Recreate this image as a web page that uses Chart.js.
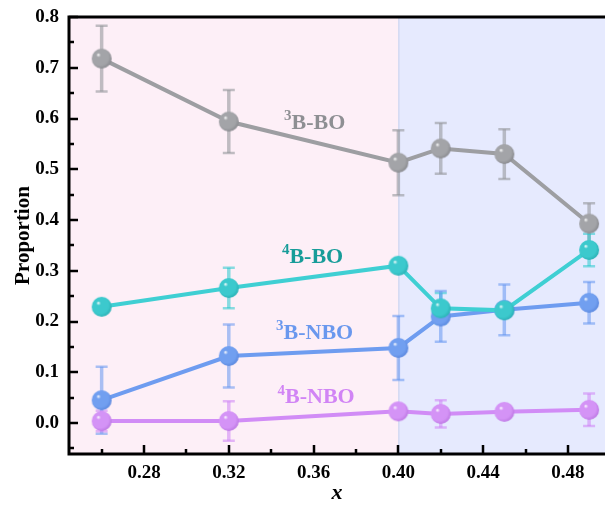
<!DOCTYPE html>
<html>
<head>
<meta charset="utf-8">
<script src="https://cdn.jsdelivr.net/npm/chart.js@4"></script>
<style>
  html, body { margin: 0; padding: 0; background: #fff; }
  #wrap { width: 605px; height: 505px; }
</style>
</head>
<body>
<div id="wrap"><canvas id="chart" width="605" height="505"></canvas></div>
<script>
// composition x and the four boron species
const xValues = [0.26, 0.32, 0.40, 0.42, 0.45, 0.49];

const b3BO = [0.718, 0.594, 0.513, 0.541, 0.530, 0.393];
const b3BOErr = [0.065, 0.062, 0.064, 0.050, 0.049, 0.040];

const b4BO = [0.229, 0.266, 0.310, 0.226, 0.222, 0.341];
const b4BOErr = [0.010, 0.040, 0.010, 0.030, 0.012, 0.032];

const b3NBO = [0.045, 0.132, 0.148, 0.210, 0.223, 0.237];
const b3NBOErr = [0.066, 0.062, 0.063, 0.050, 0.050, 0.041];

const b4NBO = [0.004, 0.004, 0.023, 0.018, 0.022, 0.026];
const b4NBOErr = [0.020, 0.039, 0.008, 0.027, 0.012, 0.032];

const xTicks = [0.28, 0.32, 0.36, 0.40, 0.44, 0.48];
const yTicks = [0.0, 0.1, 0.2, 0.3, 0.4, 0.5, 0.6, 0.7, 0.8];

const FONT = "'Liberation Serif', 'Times New Roman', serif";

// shaded sphere used as the point marker
function sphere(color, dark) {
  const r = 10;
  const c = document.createElement("canvas");
  c.width = c.height = r * 2 + 2;
  const g = c.getContext("2d");
  const cx = r + 1, cy = r + 1;
  const grad = g.createRadialGradient(cx - 3.5, cy - 4, 0, cx - 1, cy - 1, r * 1.25);
  grad.addColorStop(0, "#ffffff");
  grad.addColorStop(0.18, color);
  grad.addColorStop(0.7, color);
  grad.addColorStop(1, dark);
  g.fillStyle = grad;
  g.beginPath();
  g.arc(cx, cy, r, 0, Math.PI * 2);
  g.fill();
  return c;
}

const series = [
  { label: "3B-BO", data: b3BO, err: b3BOErr, line: "#9d9ea2", bar: "rgba(150,151,156,0.6)", ball: sphere("#a3a4a8", "#808186") },
  { label: "4B-BO", data: b4BO, err: b4BOErr, line: "#3fcfd3", bar: "rgba(40,200,205,0.55)", ball: sphere("#3cc9cd", "#25a9ad") },
  { label: "3B-NBO", data: b3NBO, err: b3NBOErr, line: "#6e9cf0", bar: "rgba(100,150,240,0.55)", ball: sphere("#719ff0", "#5480d8") },
  { label: "4B-NBO", data: b4NBO, err: b4NBOErr, line: "#d18cf6", bar: "rgba(205,130,245,0.55)", ball: sphere("#d493f6", "#b56fdd") },
];

// text labels placed in data coordinates
const tags = [
  { sup: "3", text: "B-BO", x: 0.3605, y: 0.590, color: "#8e8f93" },
  { sup: "4", text: "B-BO", x: 0.3595, y: 0.326, color: "#179c99" },
  { sup: "3", text: "B-NBO", x: 0.3605, y: 0.177, color: "#6a98ee" },
  { sup: "4", text: "B-NBO", x: 0.3612, y: 0.050, color: "#d184f5" },
];

const background = {
  id: "background",
  beforeDatasetsDraw(chart) {
    const { ctx, chartArea: a, scales: { x } } = chart;
    const split = x.getPixelForValue(0.40);
    ctx.save();
    ctx.fillStyle = "#fdeff7";
    ctx.fillRect(a.left, a.top, split - a.left, a.bottom - a.top);
    ctx.fillStyle = "#e6eafe";
    ctx.fillRect(split, a.top, a.right - split, a.bottom - a.top);
    ctx.strokeStyle = "rgba(170,180,220,0.5)";
    ctx.lineWidth = 1;
    ctx.beginPath();
    ctx.moveTo(split + 0.5, a.top);
    ctx.lineTo(split + 0.5, a.bottom);
    ctx.stroke();

    // error bars sit under the lines and markers
    ctx.lineCap = "butt";
    series.forEach((s) => {
      ctx.strokeStyle = s.bar;
      s.data.forEach((v, i) => {
        const px = x.getPixelForValue(xValues[i]);
        const top = chart.scales.y.getPixelForValue(v + s.err[i]);
        const bot = chart.scales.y.getPixelForValue(v - s.err[i]);
        ctx.lineWidth = 3.5;
        ctx.beginPath();
        ctx.moveTo(px, top);
        ctx.lineTo(px, bot);
        ctx.stroke();
        ctx.lineWidth = 2.5;
        ctx.beginPath();
        ctx.moveTo(px - 6, top);
        ctx.lineTo(px + 6, top);
        ctx.moveTo(px - 6, bot);
        ctx.lineTo(px + 6, bot);
        ctx.stroke();
      });
    });
    ctx.restore();
  },
};

const frame = {
  id: "frame",
  afterDatasetsDraw(chart) {
    const { ctx, chartArea: a, scales: { x, y } } = chart;
    ctx.save();

    tags.forEach((t) => {
      const px = x.getPixelForValue(t.x);
      const py = y.getPixelForValue(t.y);
      ctx.fillStyle = t.color;
      ctx.textBaseline = "middle";
      ctx.font = "bold 22px " + FONT;
      const w = ctx.measureText(t.text).width;
      ctx.font = "bold 15px " + FONT;
      const sw = ctx.measureText(t.sup).width;
      const left = px - (w + sw) / 2;
      ctx.textAlign = "left";
      ctx.fillText(t.sup, left, py - 7);
      ctx.font = "bold 22px " + FONT;
      ctx.fillText(t.text, left + sw, py);
    });

    ctx.strokeStyle = "#000";
    ctx.lineWidth = 3;
    ctx.beginPath();
    ctx.moveTo(a.left, a.top);
    ctx.lineTo(a.right, a.top);
    ctx.moveTo(a.left, a.top - 1.5);
    ctx.lineTo(a.left, a.bottom);
    ctx.lineTo(a.right, a.bottom);
    ctx.stroke();

    // inward ticks, major and minor
    ctx.lineWidth = 2.5;
    ctx.beginPath();
    for (let v = 0.26; v < x.max; v += 0.02) {
      const px = Math.round(x.getPixelForValue(v));
      const major = xTicks.some((t) => Math.abs(t - v) < 1e-6);
      ctx.moveTo(px, a.bottom);
      ctx.lineTo(px, a.bottom - (major ? 9 : 5));
    }
    for (let v = -0.05; v <= 0.8001; v += 0.05) {
      const py = Math.round(y.getPixelForValue(v));
      const major = yTicks.some((t) => Math.abs(t - v) < 1e-6);
      ctx.moveTo(a.left, py);
      ctx.lineTo(a.left + (major ? 9 : 5), py);
    }
    ctx.stroke();
    ctx.restore();
  },
};

// keep the plot box fixed regardless of tick label overhang
function noOverhang(scale) {
  scale.paddingLeft = 0;
  scale.paddingRight = 0;
  scale.paddingTop = 0;
  scale.paddingBottom = 0;
}

new Chart(document.getElementById("chart"), {
  type: "line",
  data: {
    datasets: series.map((s) => ({
      label: s.label,
      data: s.data.map((v, i) => ({ x: xValues[i], y: v })),
      borderColor: s.line,
      borderWidth: 4,
      pointStyle: s.ball,
      pointRadius: 10,
      pointHoverRadius: 10,
      tension: 0,
    })),
  },
  options: {
    responsive: false,
    animation: false,
    events: [],
    layout: { autoPadding: false, padding: { top: 17, left: 0, right: 0, bottom: 0 } },
    plugins: { legend: { display: false }, tooltip: { enabled: false } },
    scales: {
      x: {
        type: "linear",
        min: 0.2446,
        max: 0.4975,
        grid: { display: false, drawTicks: false },
        border: { display: false },
        afterBuildTicks: (scale) => { scale.ticks = xTicks.map((v) => ({ value: v })); },
        afterFit: (scale) => { scale.height = 51; noOverhang(scale); },
        ticks: {
          padding: 8,
          color: "#000",
          font: { family: FONT, size: 19, weight: "bold" },
          callback: (v) => v.toFixed(2),
        },
        title: {
          display: true,
          text: "x",
          color: "#000",
          font: { family: FONT, size: 22, weight: "bold", style: "italic" },
          padding: { top: 0, bottom: -2 },
        },
      },
      y: {
        min: -0.061,
        max: 0.8,
        grid: { display: false, drawTicks: false },
        border: { display: false },
        afterBuildTicks: (scale) => { scale.ticks = yTicks.map((v) => ({ value: v })); },
        afterFit: (scale) => { scale.width = 69; noOverhang(scale); },
        ticks: {
          padding: 10,
          color: "#000",
          font: { family: FONT, size: 19, weight: "bold" },
          callback: (v) => v.toFixed(1),
        },
        title: {
          display: true,
          text: "Proportion",
          color: "#000",
          font: { family: FONT, size: 21, weight: "bold" },
          padding: { top: 11, bottom: 0 },
        },
      },
    },
  },
  plugins: [background, frame],
});
</script>
</body>
</html>
